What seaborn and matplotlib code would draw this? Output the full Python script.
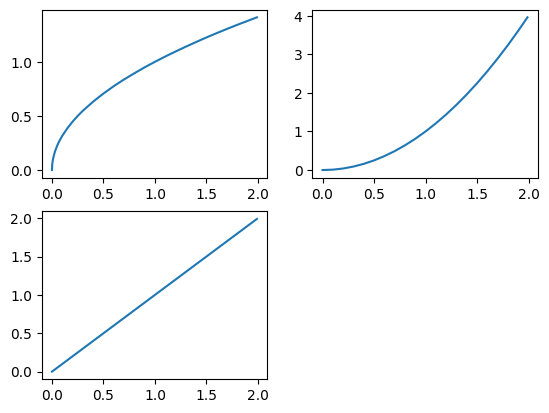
import matplotlib
matplotlib.use("Agg")
import matplotlib.pyplot as plt
import seaborn as sns

# values
x_sqrt = [0, 0.002, 0.005, 0.01, 0.02, 0.03, 0.05, 0.07, 0.1, 0.15, 0.2, 0.25, 0.3, 0.4,
          0.5, 0.6, 0.7, 0.8, 0.9, 1.0, 1.1, 1.2, 1.3, 1.4, 1.5, 1.6, 1.7, 1.8, 1.9, 1.99]
y_sqrt = [0, 0.045, 0.071, 0.100, 0.141, 0.173, 0.224, 0.265, 0.316, 0.387, 0.447, 0.500,
          0.548, 0.632, 0.707, 0.775, 0.837, 0.894, 0.949, 1.000, 1.049, 1.095, 1.140,
          1.183, 1.225, 1.265, 1.304, 1.342, 1.378, 1.411]

x_sq = [0, 0.1, 0.2, 0.3, 0.4, 0.5, 0.6, 0.7, 0.8, 0.9, 1.0,
        1.1, 1.2, 1.3, 1.4, 1.5, 1.6, 1.7, 1.8, 1.9, 1.99]
y_sq = [0, 0.01, 0.04, 0.09, 0.16, 0.25, 0.36, 0.49, 0.64, 0.81, 1.0,
        1.21, 1.44, 1.69, 1.96, 2.25, 2.56, 2.89, 3.24, 3.61, 3.96]

x_lin = [0, 0.5, 1.0, 1.5, 1.99]
y_lin = [0, 0.5, 1.0, 1.5, 1.99]

fig, axes = plt.subplots(2, 2, figsize=(6.4, 4.8), dpi=100)

sns.lineplot(x=x_sqrt, y=y_sqrt, ax=axes[0, 0])
sns.lineplot(x=x_sq, y=y_sq, ax=axes[0, 1])
sns.lineplot(x=x_lin, y=y_lin, ax=axes[1, 0])
axes[1, 1].remove()

plt.savefig("out.png", dpi=100, bbox_inches="tight")
